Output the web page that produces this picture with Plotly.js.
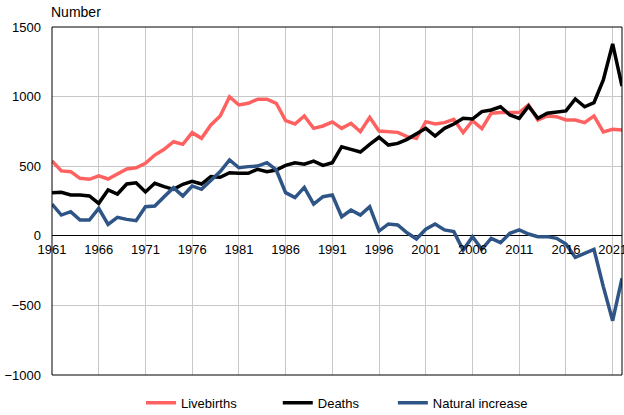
<!DOCTYPE html>
<html>
<head>
<meta charset="utf-8">
<script src="https://cdn.plot.ly/plotly-3.0.1.min.js"></script>
<style>html,body{margin:0;padding:0;background:#fff;}#chart{width:624px;height:415px;}</style>
</head>
<body>
<div id="chart"></div>
<script>
const years = [];
for (let y = 1961; y <= 2022; y++) years.push(y);

const livebirths = [537,466,461,413,406,430,408,442,480,489,
  521,580,621,676,657,741,700,796,861,999,
  940,952,981,981,952,827,803,861,772,789,
  818,772,808,748,851,753,748,743,712,700,
  820,803,813,837,741,827,770,880,885,885,
  885,940,832,861,856,832,832,813,861,746,
  765,760];

const deaths = [310,312,293,293,286,233,329,300,372,381,
  315,377,353,334,370,391,372,425,420,453,
  449,449,478,461,473,506,525,514,537,506,
  525,640,621,602,657,708,652,664,693,736,
  772,717,772,803,844,839,892,904,927,868,
  844,932,844,880,887,897,983,927,956,1119,
  1378,1076];

const naturalIncrease = [228,149,173,113,113,197,82,133,118,109,
  209,214,281,346,286,358,334,396,461,545,
  489,497,501,525,473,310,274,348,228,281,
  293,137,185,149,209,34,85,78,22,-23,
  47,85,42,30,-102,-6,-97,-18,-49,18,
  42,13,-6,-6,-18,-59,-155,-126,-97,-365,
  -610,-305];

const tickYears = [1961,1966,1971,1976,1981,1986,1991,1996,2001,2006,2011,2016,2021];
const yTicks = [-1000,-500,0,500,1000,1500];
const seriesNames = ['Livebirths', 'Deaths', 'Natural increase'];

const font = {family: 'Liberation Sans, Arial, sans-serif', size: 13, color: '#000'};
const pad = n => '\u00a0'.repeat(n);

const traces = [
  {x: years, y: livebirths, name: seriesNames[0] + pad(10), type: 'scatter', mode: 'lines',
   line: {color: '#ff6161', width: 3.5}},
  {x: years, y: deaths, name: seriesNames[1] + pad(8), type: 'scatter', mode: 'lines',
   line: {color: '#000000', width: 3.5}},
  {x: years, y: naturalIncrease, name: seriesNames[2], type: 'scatter', mode: 'lines',
   line: {color: '#2e5586', width: 3.5}}
];

const layout = {
  width: 624, height: 415,
  margin: {l: 52, r: 2, t: 27, b: 40, autoexpand: false},
  paper_bgcolor: '#fff', plot_bgcolor: '#fff',
  font: font,
  showlegend: true,
  legend: {orientation: 'h', x: 0.5, xanchor: 'center', xref: 'paper',
           y: -0.08, yanchor: 'middle', font: font, bgcolor: 'rgba(0,0,0,0)'},
  xaxis: {range: [1961, 2022], tickvals: tickYears, ticktext: tickYears.map(String),
          showgrid: true, gridcolor: '#c8c8c8', gridwidth: 1, zeroline: false,
          showline: false, ticks: '', anchor: 'free', position: 0.4,
          ticklabelstandoff: 4, ticklabeloverflow: 'allow', tickfont: font, fixedrange: true},
  yaxis: {range: [-1000, 1500], tickvals: yTicks, showgrid: true, gridcolor: '#c8c8c8',
          gridwidth: 1, zeroline: true, zerolinecolor: '#000', zerolinewidth: 1,
          showline: false, ticks: '', ticklabelstandoff: 10, tickfont: font, fixedrange: true},
  shapes: [{type: 'rect', xref: 'paper', yref: 'paper', x0: 0, x1: 1, y0: 0, y1: 1,
            line: {color: '#000', width: 1}, fillcolor: 'rgba(0,0,0,0)', layer: 'above'}],
  annotations: [{text: 'Number', xref: 'paper', yref: 'paper', x: 0, y: 1, xanchor: 'left',
                 yanchor: 'bottom', yshift: 5, xshift: -3, showarrow: false,
                 font: {family: font.family, size: 14, color: '#000'}}]
};

Plotly.newPlot('chart', traces, layout, {displayModeBar: false, staticPlot: true});
</script>
</body>
</html>
